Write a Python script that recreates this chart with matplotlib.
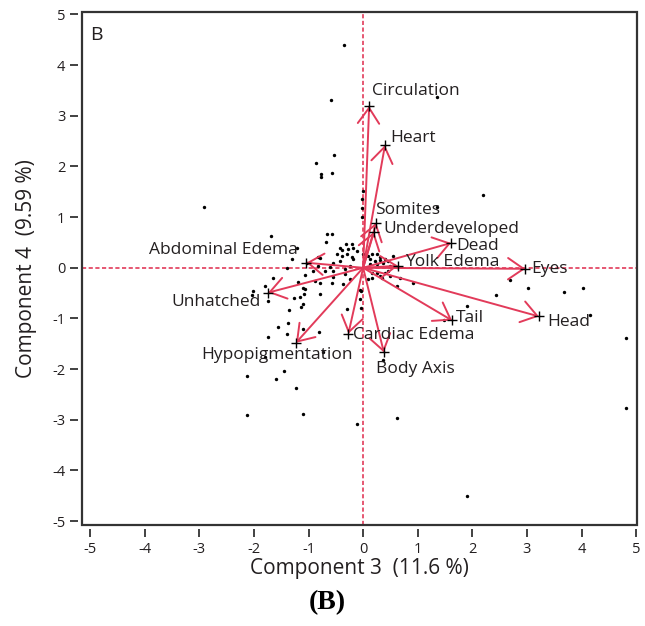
import numpy as np
import matplotlib
matplotlib.use("Agg")
import matplotlib.pyplot as plt
from matplotlib.patches import Rectangle

plt.rcParams['font.family'] = ['Open Sans', 'DejaVu Sans']
plt.rcParams['axes.unicode_minus'] = False

# scores (component 3, component 4)
pts_x = [-0.35, -0.59, -0.53, -0.86, -0.77, -0.77, -0.57, 1.36, 2.20, 1.36, -0.02,
         -2.91, -1.68, -1.21, -1.30, -1.39, -1.03, -0.92, -0.82, -1.65, -1.79, -1.19,
         -1.10, -2.01, -2.03, -1.74, -1.26, -1.15, -1.08, -1.10, -1.14, -0.79, -1.36,
         -0.57, -0.29, -1.56, -1.37, -1.74, -1.39, -1.10, -0.81, -2.12, -1.59, -1.45,
         -1.23, -2.12, -1.10, -0.11, -1.79, -0.73, 0.62, 1.90, 4.82, 4.82, 0.37,
         2.69, 3.02, 3.68, 4.03, 2.44, 1.90, 1.48, 4.16, -0.04, -0.04, 0.16, 0.35,
         0.62, 0.92, 0.00,
         -0.66, -0.57, -0.68, -0.42, -0.38, -0.31, -0.20, -0.18, -0.27, -0.48, -0.38,
         -0.29, -0.20, -0.11, 0.00, 0.09, 0.16, 0.26, 0.31, 0.13, 0.22, 0.31, 0.40,
         0.37, 0.46, 0.55, 0.13, 0.26, 0.49, 0.62, -0.42, -0.55, -0.60, -0.79, -0.82,
         -0.70, -0.55, -0.33, -0.24, -0.18, -1.06, -0.79, -0.88, -1.06, -0.24, 0.09,
         0.16, 0.26, 0.40, 0.46, 0.31, 0.49, 0.68, -0.05, -0.02, -0.02, -0.33, -0.55,
         -0.37, -0.05]
pts_y = [4.39, 3.31, 2.22, 2.07, 1.85, 1.79, 1.87, 3.37, 1.44, 1.20, 1.36,
         1.20, 0.63, 0.39, 0.18, 0.00, 0.10, -0.06, 0.22, -0.20, -0.35, -0.28,
         -0.39, -0.45, -0.53, -0.65, -0.59, -0.57, -0.51, -0.71, -0.77, -0.51, -0.83,
         -0.30, -0.81, -1.16, -1.08, -1.36, -1.30, -1.20, -1.26, -2.13, -2.19, -2.03,
         -2.38, -2.91, -2.89, -3.09, -1.77, -1.67, -2.97, -4.51, -2.76, -1.38, -1.81,
         -0.24, -0.39, -0.47, -0.39, -0.53, -0.75, -1.04, -0.94, -0.45, -0.79, -0.20, -0.20,
         -0.35, -0.30, 1.52,
         0.67, 0.67, 0.51, 0.39, 0.35, 0.47, 0.47, 0.39, 0.37, 0.28, 0.24,
         0.28, 0.22, 0.33, 0.28, 0.24, 0.28, 0.28, 0.22, 0.18, 0.14, 0.16, 0.18,
         0.10, 0.14, 0.24, 0.08, 0.08, 0.04, 0.02, 0.14, 0.10, 0.02, 0.20, 0.04,
         -0.06, -0.06, -0.02, 0.04, 0.18, -0.14, -0.30, -0.26, -0.41, -0.22, -0.22,
         -0.10, -0.10, -0.10, -0.06, -0.16, -0.16, -0.20, -0.43, 1.00, 1.18, -0.12, -0.18,
         -0.31, -0.61]

# loading vectors
var_names = ['Circulation', 'Heart', 'Somites', 'Underdeveloped', 'Dead', 'Yolk Edema',
             'Eyes', 'Head', 'Tail', 'Body Axis', 'Cardiac Edema', 'Hypopigmentation',
             'Unhatched', 'Abdominal Edema']
vec_x = [0.11, 0.40, 0.24, 0.20, 1.61, 0.64, 2.97, 3.22, 1.63, 0.38, -0.27, -1.23, -1.74, -1.04]
vec_y = [3.19, 2.42, 0.89, 0.71, 0.49, 0.04, -0.02, -0.96, -1.04, -1.67, -1.30, -1.48, -0.49, 0.10]

# label placement (offset in points, alignment)
lab_off = [(2, 11, 'left'), (4, 5, 'left'), (-1, 9, 'left'), (7, 2, 'left'),
           (4, -2, 'left'), (5, 3, 'left'), (4, 0, 'left'), (6, -4, 'left'),
           (3, 2, 'left'), (-6, -12, 'left'), (3, -1, 'left'), (-14, -9, 'center'),
           (-5, -7, 'right'), (-6, 9, 'right')]

red = '#e23b5a'
txt = '#231f20'

fig = plt.figure(figsize=(6.45, 6.26), dpi=100)
ax = fig.add_axes([0.127, 0.161, 0.861, 0.820])

ax.axvline(0, color=red, ls=(0, (2.5, 1.5)), lw=1.2, zorder=1)
ax.axhline(0, color=red, ls=(0, (2.5, 1.5)), lw=1.2, zorder=1)

ax.scatter(pts_x, pts_y, s=6, color='black', zorder=3, linewidths=0)

for name, x, y, (dx, dy, ha) in zip(var_names, vec_x, vec_y, lab_off):
    ax.annotate('', xy=(x, y), xytext=(0, 0),
                arrowprops=dict(arrowstyle='->,head_length=0.8,head_width=0.55',
                                color=red, lw=1.4, shrinkA=0, shrinkB=0,
                                mutation_scale=14), zorder=4)
    ax.plot(x, y, marker='+', color='black', ms=7, mew=1.0, zorder=5)
    ax.annotate(name, xy=(x, y), xytext=(dx, dy), textcoords='offset points',
                ha=ha, va='center', fontsize=12.5, color=txt, zorder=6)

ax.set_xlim(-5.15, 5.02)
ax.set_ylim(-5.08, 5.05)
ax.set_xticks(range(-5, 6))
ax.set_yticks(range(-5, 6))

# frame drawn separately, axis lines offset like the original
for s in ax.spines.values():
    s.set_visible(False)
ax.spines['bottom'].set_position(('outward', 3))
ax.spines['left'].set_position(('outward', 3))
ax.add_patch(Rectangle((0, 0), 1, 1, transform=ax.transAxes, fill=False,
                       ec='#333333', lw=1.6, clip_on=False, zorder=10))
ax.tick_params(direction='out', length=6, width=1.3, color='#333333',
               labelsize=10.5, labelcolor=txt, pad=3)

ax.set_xlabel('Component 3  (11.6 %)', fontsize=15, color=txt, labelpad=1)
ax.set_ylabel('Component 4  (9.59 %)', fontsize=15, color=txt, labelpad=11)

ax.text(0.015, 0.955, 'B', transform=ax.transAxes, fontsize=14, color=txt,
        ha='left', va='center')

fig.text(0.507, 0.038, '(B)', fontsize=20, fontweight='bold',
         family=['Liberation Serif', 'DejaVu Serif'], ha='center', va='center')

fig.savefig('out.png', dpi=100)
